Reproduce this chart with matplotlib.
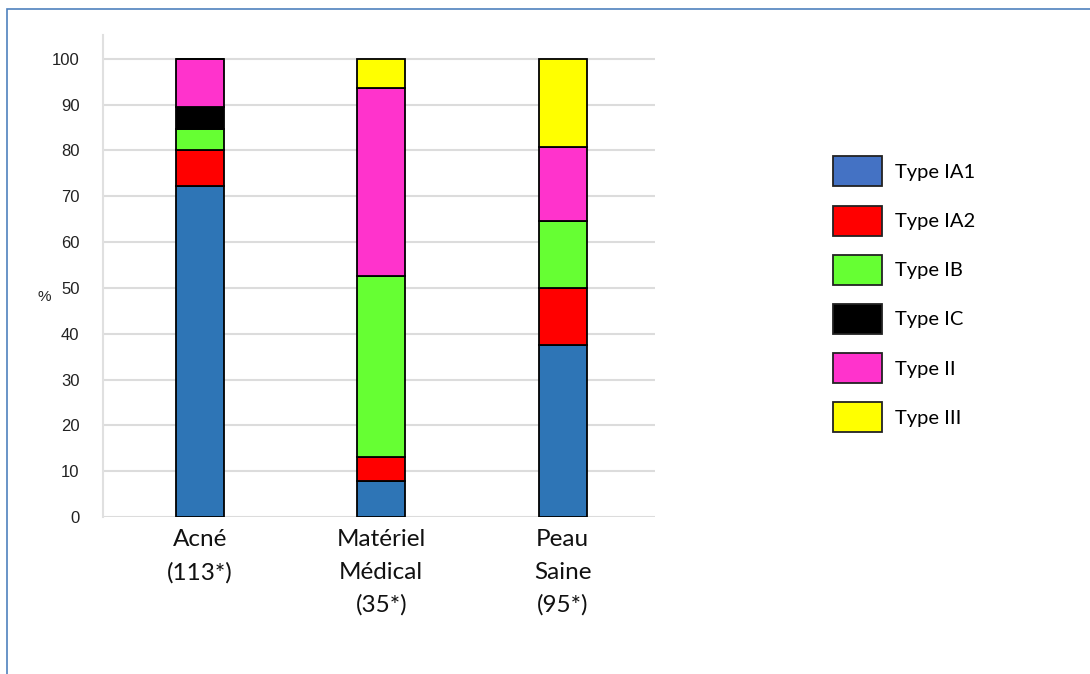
import numpy as np
import matplotlib.pyplot as plt
import matplotlib.patches as mpatches

# Data (percent of isolates per type)
categories = ['Acné\n(113*)', 'Matériel\nMédical\n(35*)', 'Peau\nSaine\n(95*)']
type_labels = ['Type IA1', 'Type IA2', 'Type IB', 'Type IC', 'Type II', 'Type III']
ia1 = [72.3, 7.9, 37.6]
ia2 = [7.9, 5.2, 12.4]
ib = [4.5, 39.5, 14.6]
ic = [4.9, 0.0, 0.0]
t2 = [10.4, 41.1, 16.2]
t3 = [0.0, 6.3, 19.2]

bar_colors = ['#2E75B6', '#FF0000', '#66FF33', '#000000', '#FF33CC', '#FFFF00']
legend_colors = ['#4472C4', '#FF0000', '#66FF33', '#000000', '#FF33CC', '#FFFF00']

fig = plt.figure(figsize=(10.9, 6.74), dpi=100)
ax = fig.add_axes([0.0945, 0.233, 0.506, 0.715])

x = np.arange(len(categories))
bottom = np.zeros(len(categories))
for vals, col in zip([ia1, ia2, ib, ic, t2, t3], bar_colors):
    vals = np.array(vals)
    ax.bar(x, vals, width=0.265, bottom=bottom, color=col,
           edgecolor='black', linewidth=1.3, zorder=3)
    bottom += vals

ax.set_xlim(-0.534, 2.507)
ax.set_ylim(0, 105.2)
ax.set_yticks(range(0, 101, 10))
ax.grid(True, axis='y', color='#dcdcdc', linewidth=1.5, zorder=0)
for s in ['top', 'right', 'bottom']:
    ax.spines[s].set_visible(False)
ax.spines['left'].set_color('#e0e0e0')
ax.spines['left'].set_linewidth(1.5)
ax.tick_params(axis='both', length=0)
ax.tick_params(axis='y', pad=17)
ax.tick_params(axis='x', pad=9)
ax.set_xticks(x)
ax.set_xticklabels(categories, fontsize=17.5, family=['Lato', 'DejaVu Sans'],
                   linespacing=1.65, color='#111111')
for lbl in ax.get_yticklabels():
    lbl.set_fontsize(12)
    lbl.set_family(['Liberation Sans Narrow', 'Liberation Sans'])
    lbl.set_color('#222222')

fig.text(0.034, 0.559, '%', fontsize=11, ha='left', va='center',
         family=['Liberation Sans Narrow', 'Liberation Sans'], color='#222222')

# Legend
handles = [mpatches.Patch(facecolor=c, edgecolor='#222222', linewidth=1.3)
           for c in legend_colors]
fig.legend(handles, type_labels, loc='upper left', bbox_to_anchor=(0.764, 0.768),
           frameon=False, prop={'family': 'Lato', 'size': 14.5},
           handlelength=2.44, handleheight=1.92, labelspacing=0.95,
           handletextpad=0.65, borderaxespad=0, borderpad=0)

# Outer border of the slide
fig.patches.append(mpatches.Rectangle((7 / 1090, -0.1), 1.2, 1 - 9 / 674 + 0.1,
                                      transform=fig.transFigure, fill=False,
                                      edgecolor='#4F81BD', linewidth=1.2))

fig.savefig('out.png', dpi=100)
